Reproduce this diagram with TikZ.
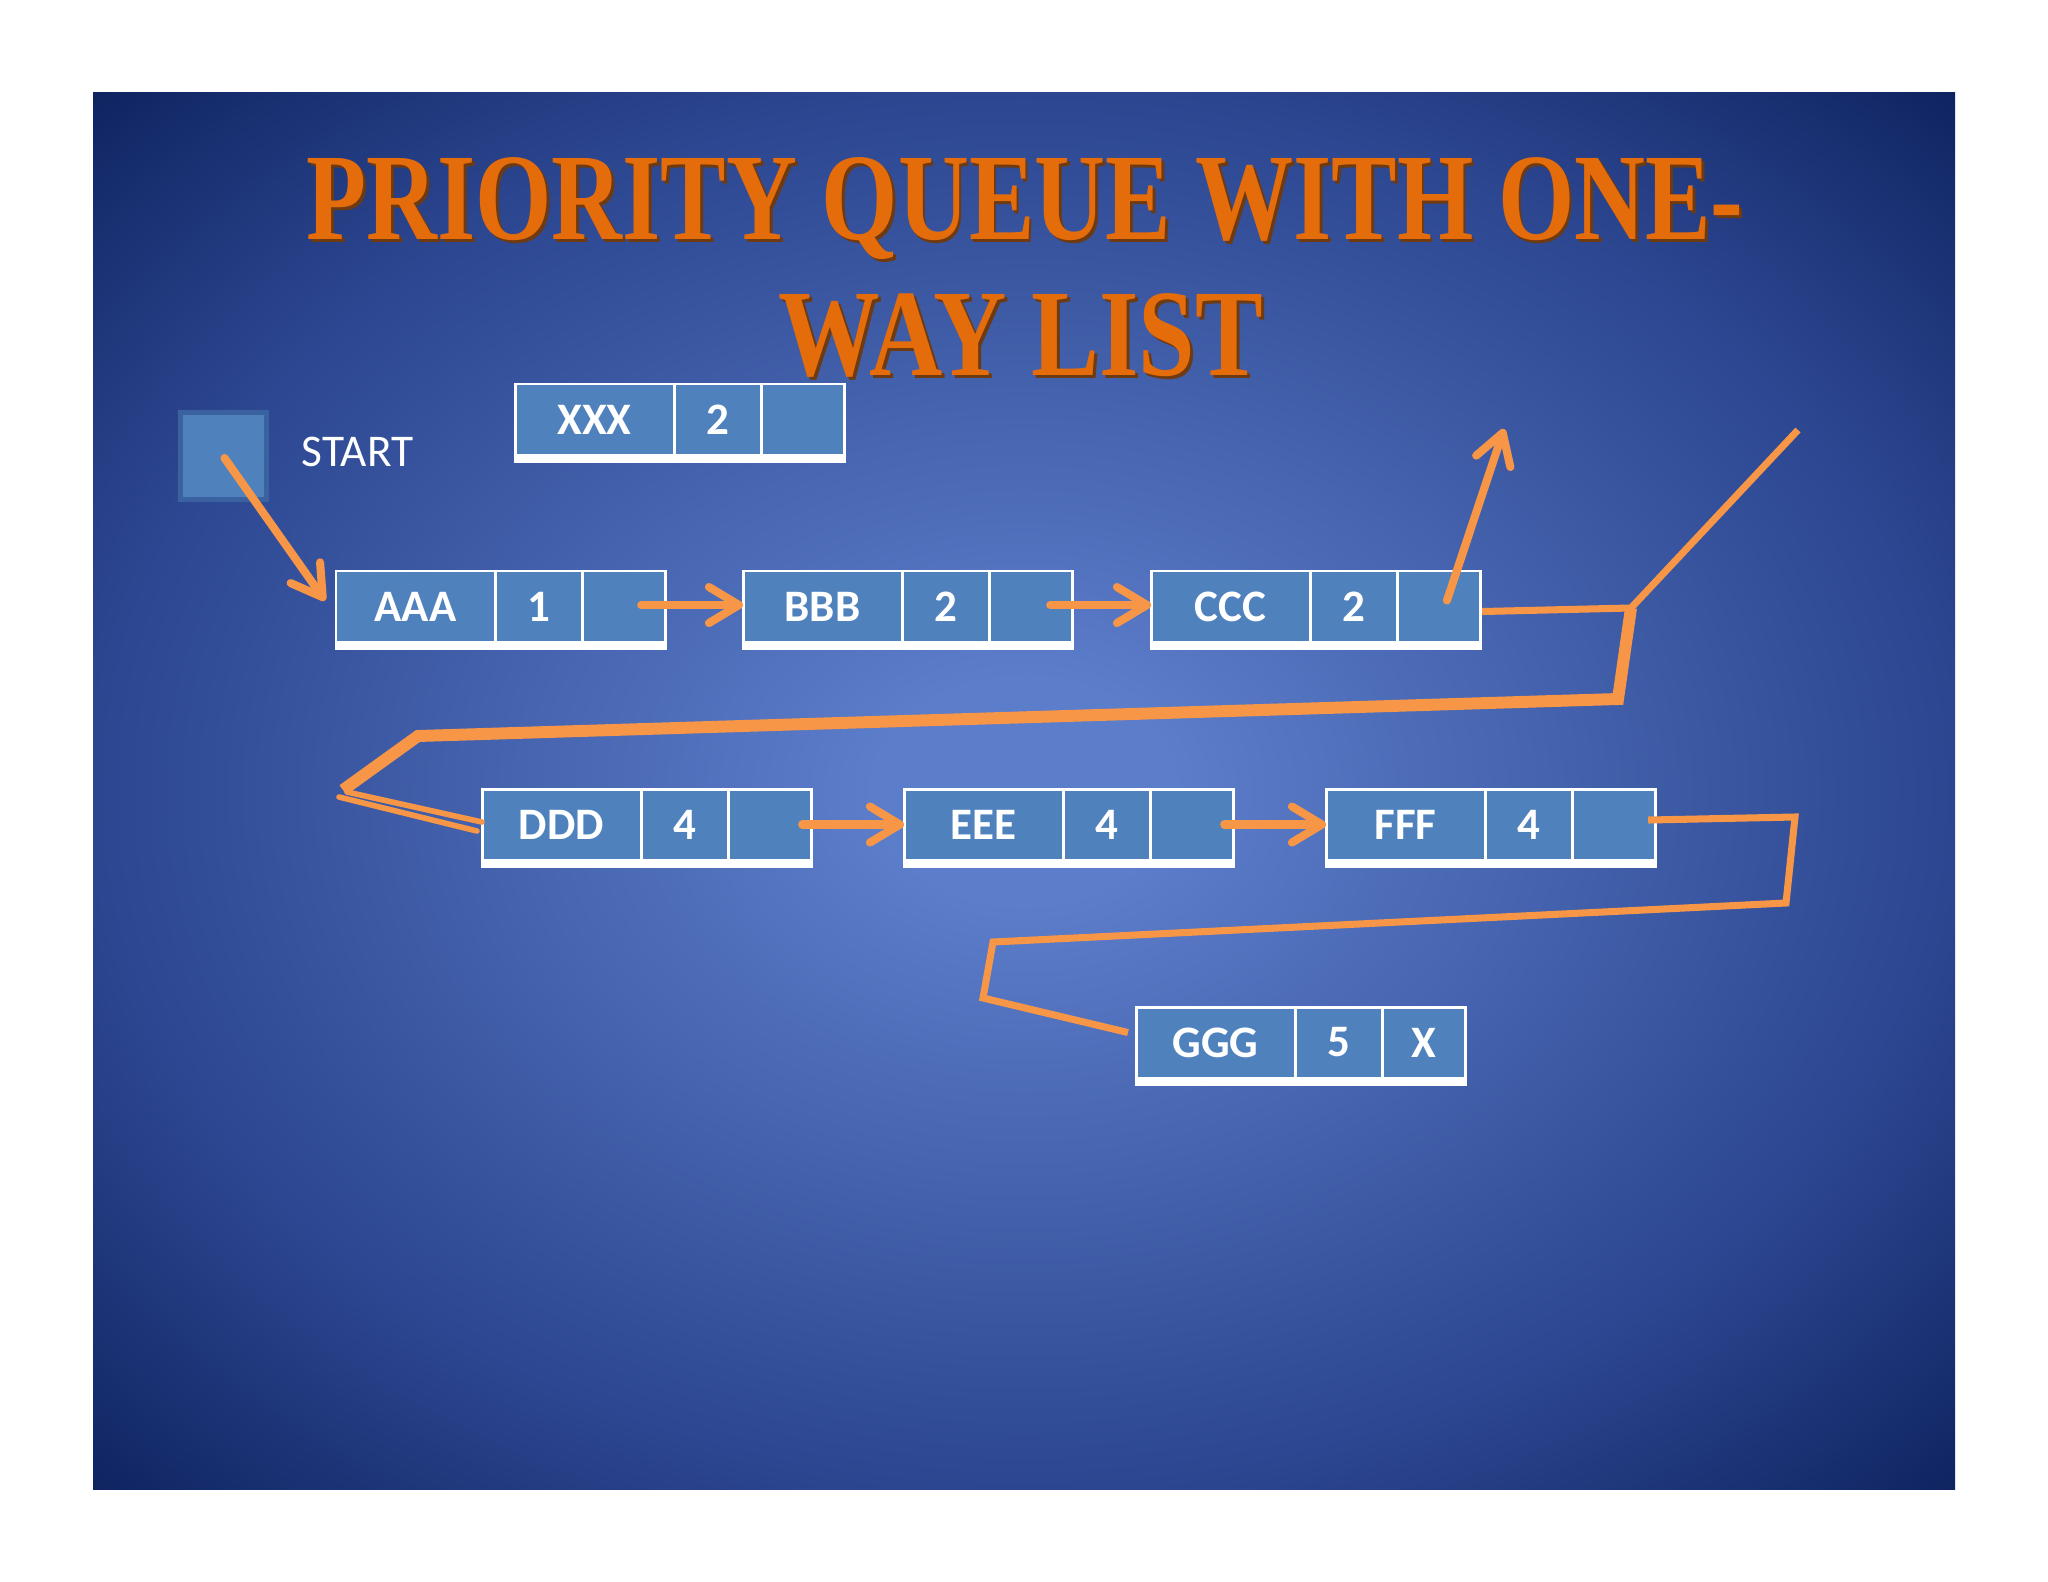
\documentclass[tikz,border=0pt]{standalone}
\usepackage{fontspec}
\setmainfont{Carlito}
\newfontfamily\titlefont{Liberation Serif}
\usetikzlibrary{arrows.meta,calc}

\definecolor{cellblue}{HTML}{4F81BD}
\definecolor{startborder}{HTML}{3A62A0}
\definecolor{linkorange}{HTML}{F79646}
\definecolor{titleorange}{HTML}{E46C0A}
\definecolor{titleshadow}{HTML}{6E3A12}
\definecolor{bgin}{HTML}{5C7DCA}
\definecolor{bgmid}{HTML}{2C4690}
\definecolor{bgout}{HTML}{0D225E}

\pgfdeclareradialshading{slidebg}{\pgfpoint{0bp}{0bp}}{color(0bp)=(bgin); color(4bp)=(bgin); color(25bp)=(bgmid); color(36bp)=(bgout); color(50bp)=(bgout)}

\newcommand\mytitletext[1]{\makebox[0pt][l]{\hspace{1pt}\raisebox{-1pt}{\textcolor{titleshadow}{#1}}}\textcolor{titleorange}{#1}}

\tikzset{
  cell/.style={rectangle, fill=cellblue, draw=white, line width=0.85pt, minimum height=0.71cm,
    inner sep=0pt, outer sep=0pt, anchor=north west, text=white,
    font=\fontsize{12.8}{14}\selectfont\bfseries},
  namecell/.style={cell, minimum width=1.59cm},
  numcell/.style={cell, minimum width=0.875cm},
  linkcell/.style={cell, minimum width=0.825cm},
  ptr/.style={draw=linkorange, line width=2.3pt, line cap=round,
    -{Straight Barb[length=3mm, width=3.6mm, line width=2.3pt, round]}},
  thinlink/.style={draw=linkorange, line width=2pt, line join=miter},
  thicklink/.style={draw=linkorange, line width=3.4pt, line join=miter},
  duallink/.style={draw=linkorange, line width=1.6pt, line cap=round},
  titlestyle/.style={anchor=base, inner sep=0pt, font=\titlefont\bfseries\fontsize{35.2}{40}\selectfont},
}

\newcommand\qrecord[6]{%
  \node[namecell] (#1-n) at (#2,#3) {#4};
  \node[numcell] (#1-p) at (#1-n.north east) {#5};
  \node[linkcell] (#1-l) at (#1-p.north east) {#6};
  \fill[white] ($(#1-n.south west)+(-1.5,0)$) rectangle ($(#1-l.south east)+(1.5,8)$);
}

\begin{document}
\begin{tikzpicture}[x=0.01cm, y=-0.01cm]
\useasboundingbox (0,0) rectangle (2048,1582);
\fill[white] (0,0) rectangle (2048,1582);
\shade[shading=slidebg] (93,93) rectangle (1955,1489);

% title
\node[titlestyle] (title1) at (1025,239) {\scalebox{0.793}[1]{\mytitletext{PRIORITY QUEUE WITH ONE-}}};
\node[titlestyle] (title2) at (1021,375) {\scalebox{0.82}[1]{\mytitletext{WAY LIST}}};

% start
\node[rectangle, draw=startborder, fill=cellblue, line width=1.42pt, minimum size=0.86cm, inner sep=0pt] (start) at (223.5,456) {};
\node[anchor=base west, text=white, inner sep=0pt, font=\fontsize{12.9}{15}\selectfont] (startlabel) at (301,466) {START};

% records
\qrecord{xxx}{515}{384}{XXX}{2}{}
\qrecord{aaa}{336}{571}{AAA}{1}{}
\qrecord{bbb}{743}{571}{BBB}{2}{}
\qrecord{ccc}{1151}{571}{CCC}{2}{}
\qrecord{ddd}{482}{789}{DDD}{4}{}
\qrecord{eee}{904}{789}{EEE}{4}{}
\qrecord{fff}{1326}{789}{FFF}{4}{}
\qrecord{ggg}{1136}{1007}{GGG}{5}{X}

% coordinates
\coordinate (ccctop) at (1504,429);
\coordinate (j1) at (1631,608);
\coordinate (upend) at (1798,430);
\coordinate (k1) at (1618,699);
\coordinate (k2) at (418,736);
\coordinate (k3) at (343,790);
\coordinate (f1) at (1795,817);
\coordinate (f2) at (1786,903);
\coordinate (f3) at (993,942);
\coordinate (f4) at (983,998);

% connectors
\draw[ptr] ($(start.center)+(1,2)$) -- ($(aaa-n.west)+(-11,-6)$);
\draw[ptr] ($(aaa-l.east)+(-24,-1.5)$) -- ($(bbb-n.west)+(0,-1.5)$);
\draw[ptr] ($(bbb-l.east)+(-22,-1.5)$) -- ($(ccc-n.west)+(0,-1.5)$);
\draw[ptr] ($(ccc-l.center)+(8,-6)$) -- (ccctop);

\draw[thinlink] ($(ccc-l.east)+(2,5)$) -- (j1) -- (upend);
\draw[thicklink] (j1) -- (k1) -- (k2) -- (k3);
\draw[duallink] ($(k3)+(4,2)$) -- ($(ddd-n.west)+(0,-2.5)$);
\draw[duallink] ($(k3)+(-4,7)$) -- ($(ddd-n.west)+(-5,6.5)$);

\draw[ptr] ($(ddd-l.east)+(-9,0)$) -- (eee-n.west);
\draw[ptr] ($(eee-l.east)+(-9,0)$) -- (fff-n.west);

\draw[thinlink] ($(fff-l.east)+(-7,-4.5)$) -- (f1) -- (f2) -- (f3) -- (f4) -- ($(ggg-n.west)+(-8,-10)$);
\end{tikzpicture}
\end{document}
